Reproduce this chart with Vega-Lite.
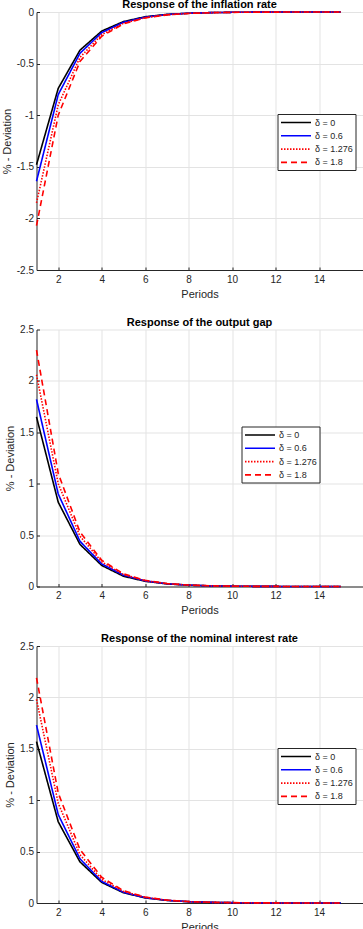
{
  "$schema": "https://vega.github.io/schema/vega-lite/v6.json",
  "background": "white",
  "padding": {"left": 0.5, "top": -1, "right": 0, "bottom": 0},
  "spacing": 17.5,
  "config": {
    "font": "Liberation Sans",
    "view": {"stroke": null},
    "title": {"fontSize": 11, "fontWeight": "bold", "color": "#000000", "offset": -3, "frame": "group"},
    "axis": {
      "labelFontSize": 10, "labelColor": "#262626", "titleFontSize": 11, "titleColor": "#262626",
      "titleFontWeight": "normal", "domainColor": "#262626", "tickColor": "#262626",
      "gridColor": "#e3e3e3", "gridWidth": 1, "tickSize": -3
    },
    "axisX": {"labelPadding": 7},
    "axisY": {"labelPadding": 6},
    "legend": {
      "orient": "none", "direction": "vertical", "title": null,
      "strokeColor": "#262626", "fillColor": "white", "padding": 2.5,
      "labelFontSize": 9, "labelColor": "#262626", "symbolType": "M-1,0H5",
      "symbolSize": 100, "symbolStrokeWidth": 1.6, "rowPadding": 2.3, "labelOffset": 23
    }
  },
  "datasets": {
    "inflation": [
      {"period": 1, "delta": "δ = 0", "value": -1.48}, {"period": 2, "delta": "δ = 0", "value": -0.74}, {"period": 3, "delta": "δ = 0", "value": -0.37}, {"period": 4, "delta": "δ = 0", "value": -0.185}, {"period": 5, "delta": "δ = 0", "value": -0.093}, {"period": 6, "delta": "δ = 0", "value": -0.046}, {"period": 7, "delta": "δ = 0", "value": -0.023}, {"period": 8, "delta": "δ = 0", "value": -0.012}, {"period": 9, "delta": "δ = 0", "value": -0.006}, {"period": 10, "delta": "δ = 0", "value": -0.003}, {"period": 11, "delta": "δ = 0", "value": -0.0015}, {"period": 12, "delta": "δ = 0", "value": -0.0007}, {"period": 13, "delta": "δ = 0", "value": -0.0004}, {"period": 14, "delta": "δ = 0", "value": -0.0002}, {"period": 15, "delta": "δ = 0", "value": -0.0001},
      {"period": 1, "delta": "δ = 0.6", "value": -1.64}, {"period": 2, "delta": "δ = 0.6", "value": -0.80}, {"period": 3, "delta": "δ = 0.6", "value": -0.40}, {"period": 4, "delta": "δ = 0.6", "value": -0.20}, {"period": 5, "delta": "δ = 0.6", "value": -0.10}, {"period": 6, "delta": "δ = 0.6", "value": -0.05}, {"period": 7, "delta": "δ = 0.6", "value": -0.025}, {"period": 8, "delta": "δ = 0.6", "value": -0.012}, {"period": 9, "delta": "δ = 0.6", "value": -0.006}, {"period": 10, "delta": "δ = 0.6", "value": -0.003}, {"period": 11, "delta": "δ = 0.6", "value": -0.0015}, {"period": 12, "delta": "δ = 0.6", "value": -0.0008}, {"period": 13, "delta": "δ = 0.6", "value": -0.0004}, {"period": 14, "delta": "δ = 0.6", "value": -0.0002}, {"period": 15, "delta": "δ = 0.6", "value": -0.0001},
      {"period": 1, "delta": "δ = 1.276", "value": -1.85}, {"period": 2, "delta": "δ = 1.276", "value": -0.90}, {"period": 3, "delta": "δ = 1.276", "value": -0.44}, {"period": 4, "delta": "δ = 1.276", "value": -0.22}, {"period": 5, "delta": "δ = 1.276", "value": -0.11}, {"period": 6, "delta": "δ = 1.276", "value": -0.055}, {"period": 7, "delta": "δ = 1.276", "value": -0.027}, {"period": 8, "delta": "δ = 1.276", "value": -0.013}, {"period": 9, "delta": "δ = 1.276", "value": -0.0065}, {"period": 10, "delta": "δ = 1.276", "value": -0.003}, {"period": 11, "delta": "δ = 1.276", "value": -0.0016}, {"period": 12, "delta": "δ = 1.276", "value": -0.0008}, {"period": 13, "delta": "δ = 1.276", "value": -0.0004}, {"period": 14, "delta": "δ = 1.276", "value": -0.0002}, {"period": 15, "delta": "δ = 1.276", "value": -0.0001},
      {"period": 1, "delta": "δ = 1.8", "value": -2.07}, {"period": 2, "delta": "δ = 1.8", "value": -1.0}, {"period": 3, "delta": "δ = 1.8", "value": -0.48}, {"period": 4, "delta": "δ = 1.8", "value": -0.235}, {"period": 5, "delta": "δ = 1.8", "value": -0.115}, {"period": 6, "delta": "δ = 1.8", "value": -0.057}, {"period": 7, "delta": "δ = 1.8", "value": -0.028}, {"period": 8, "delta": "δ = 1.8", "value": -0.014}, {"period": 9, "delta": "δ = 1.8", "value": -0.007}, {"period": 10, "delta": "δ = 1.8", "value": -0.0034}, {"period": 11, "delta": "δ = 1.8", "value": -0.0017}, {"period": 12, "delta": "δ = 1.8", "value": -0.0008}, {"period": 13, "delta": "δ = 1.8", "value": -0.0004}, {"period": 14, "delta": "δ = 1.8", "value": -0.0002}, {"period": 15, "delta": "δ = 1.8", "value": -0.0001}
    ],
    "output": [
      {"period": 1, "delta": "δ = 0", "value": 1.65}, {"period": 2, "delta": "δ = 0", "value": 0.82}, {"period": 3, "delta": "δ = 0", "value": 0.41}, {"period": 4, "delta": "δ = 0", "value": 0.205}, {"period": 5, "delta": "δ = 0", "value": 0.10}, {"period": 6, "delta": "δ = 0", "value": 0.051}, {"period": 7, "delta": "δ = 0", "value": 0.025}, {"period": 8, "delta": "δ = 0", "value": 0.013}, {"period": 9, "delta": "δ = 0", "value": 0.006}, {"period": 10, "delta": "δ = 0", "value": 0.003}, {"period": 11, "delta": "δ = 0", "value": 0.0016}, {"period": 12, "delta": "δ = 0", "value": 0.0008}, {"period": 13, "delta": "δ = 0", "value": 0.0004}, {"period": 14, "delta": "δ = 0", "value": 0.0002}, {"period": 15, "delta": "δ = 0", "value": 0.0001},
      {"period": 1, "delta": "δ = 0.6", "value": 1.82}, {"period": 2, "delta": "δ = 0.6", "value": 0.90}, {"period": 3, "delta": "δ = 0.6", "value": 0.44}, {"period": 4, "delta": "δ = 0.6", "value": 0.22}, {"period": 5, "delta": "δ = 0.6", "value": 0.11}, {"period": 6, "delta": "δ = 0.6", "value": 0.054}, {"period": 7, "delta": "δ = 0.6", "value": 0.027}, {"period": 8, "delta": "δ = 0.6", "value": 0.013}, {"period": 9, "delta": "δ = 0.6", "value": 0.0065}, {"period": 10, "delta": "δ = 0.6", "value": 0.0032}, {"period": 11, "delta": "δ = 0.6", "value": 0.0016}, {"period": 12, "delta": "δ = 0.6", "value": 0.0008}, {"period": 13, "delta": "δ = 0.6", "value": 0.0004}, {"period": 14, "delta": "δ = 0.6", "value": 0.0002}, {"period": 15, "delta": "δ = 0.6", "value": 0.0001},
      {"period": 1, "delta": "δ = 1.276", "value": 2.06}, {"period": 2, "delta": "δ = 1.276", "value": 1.0}, {"period": 3, "delta": "δ = 1.276", "value": 0.49}, {"period": 4, "delta": "δ = 1.276", "value": 0.24}, {"period": 5, "delta": "δ = 1.276", "value": 0.117}, {"period": 6, "delta": "δ = 1.276", "value": 0.057}, {"period": 7, "delta": "δ = 1.276", "value": 0.028}, {"period": 8, "delta": "δ = 1.276", "value": 0.014}, {"period": 9, "delta": "δ = 1.276", "value": 0.0068}, {"period": 10, "delta": "δ = 1.276", "value": 0.0033}, {"period": 11, "delta": "δ = 1.276", "value": 0.0016}, {"period": 12, "delta": "δ = 1.276", "value": 0.0008}, {"period": 13, "delta": "δ = 1.276", "value": 0.0004}, {"period": 14, "delta": "δ = 1.276", "value": 0.0002}, {"period": 15, "delta": "δ = 1.276", "value": 0.0001},
      {"period": 1, "delta": "δ = 1.8", "value": 2.30}, {"period": 2, "delta": "δ = 1.8", "value": 1.10}, {"period": 3, "delta": "δ = 1.8", "value": 0.53}, {"period": 4, "delta": "δ = 1.8", "value": 0.255}, {"period": 5, "delta": "δ = 1.8", "value": 0.123}, {"period": 6, "delta": "δ = 1.8", "value": 0.06}, {"period": 7, "delta": "δ = 1.8", "value": 0.029}, {"period": 8, "delta": "δ = 1.8", "value": 0.014}, {"period": 9, "delta": "δ = 1.8", "value": 0.007}, {"period": 10, "delta": "δ = 1.8", "value": 0.0034}, {"period": 11, "delta": "δ = 1.8", "value": 0.0017}, {"period": 12, "delta": "δ = 1.8", "value": 0.0008}, {"period": 13, "delta": "δ = 1.8", "value": 0.0004}, {"period": 14, "delta": "δ = 1.8", "value": 0.0002}, {"period": 15, "delta": "δ = 1.8", "value": 0.0001}
    ],
    "interest": [
      {"period": 1, "delta": "δ = 0", "value": 1.57}, {"period": 2, "delta": "δ = 0", "value": 0.79}, {"period": 3, "delta": "δ = 0", "value": 0.40}, {"period": 4, "delta": "δ = 0", "value": 0.20}, {"period": 5, "delta": "δ = 0", "value": 0.10}, {"period": 6, "delta": "δ = 0", "value": 0.05}, {"period": 7, "delta": "δ = 0", "value": 0.025}, {"period": 8, "delta": "δ = 0", "value": 0.0125}, {"period": 9, "delta": "δ = 0", "value": 0.006}, {"period": 10, "delta": "δ = 0", "value": 0.003}, {"period": 11, "delta": "δ = 0", "value": 0.0016}, {"period": 12, "delta": "δ = 0", "value": 0.0008}, {"period": 13, "delta": "δ = 0", "value": 0.0004}, {"period": 14, "delta": "δ = 0", "value": 0.0002}, {"period": 15, "delta": "δ = 0", "value": 0.0001},
      {"period": 1, "delta": "δ = 0.6", "value": 1.73}, {"period": 2, "delta": "δ = 0.6", "value": 0.86}, {"period": 3, "delta": "δ = 0.6", "value": 0.43}, {"period": 4, "delta": "δ = 0.6", "value": 0.21}, {"period": 5, "delta": "δ = 0.6", "value": 0.105}, {"period": 6, "delta": "δ = 0.6", "value": 0.052}, {"period": 7, "delta": "δ = 0.6", "value": 0.026}, {"period": 8, "delta": "δ = 0.6", "value": 0.013}, {"period": 9, "delta": "δ = 0.6", "value": 0.0064}, {"period": 10, "delta": "δ = 0.6", "value": 0.0032}, {"period": 11, "delta": "δ = 0.6", "value": 0.0016}, {"period": 12, "delta": "δ = 0.6", "value": 0.0008}, {"period": 13, "delta": "δ = 0.6", "value": 0.0004}, {"period": 14, "delta": "δ = 0.6", "value": 0.0002}, {"period": 15, "delta": "δ = 0.6", "value": 0.0001},
      {"period": 1, "delta": "δ = 1.276", "value": 1.98}, {"period": 2, "delta": "δ = 1.276", "value": 0.97}, {"period": 3, "delta": "δ = 1.276", "value": 0.47}, {"period": 4, "delta": "δ = 1.276", "value": 0.23}, {"period": 5, "delta": "δ = 1.276", "value": 0.113}, {"period": 6, "delta": "δ = 1.276", "value": 0.055}, {"period": 7, "delta": "δ = 1.276", "value": 0.027}, {"period": 8, "delta": "δ = 1.276", "value": 0.013}, {"period": 9, "delta": "δ = 1.276", "value": 0.0066}, {"period": 10, "delta": "δ = 1.276", "value": 0.0032}, {"period": 11, "delta": "δ = 1.276", "value": 0.0016}, {"period": 12, "delta": "δ = 1.276", "value": 0.0008}, {"period": 13, "delta": "δ = 1.276", "value": 0.0004}, {"period": 14, "delta": "δ = 1.276", "value": 0.0002}, {"period": 15, "delta": "δ = 1.276", "value": 0.0001},
      {"period": 1, "delta": "δ = 1.8", "value": 2.19}, {"period": 2, "delta": "δ = 1.8", "value": 1.07}, {"period": 3, "delta": "δ = 1.8", "value": 0.52}, {"period": 4, "delta": "δ = 1.8", "value": 0.25}, {"period": 5, "delta": "δ = 1.8", "value": 0.12}, {"period": 6, "delta": "δ = 1.8", "value": 0.058}, {"period": 7, "delta": "δ = 1.8", "value": 0.028}, {"period": 8, "delta": "δ = 1.8", "value": 0.014}, {"period": 9, "delta": "δ = 1.8", "value": 0.0068}, {"period": 10, "delta": "δ = 1.8", "value": 0.0033}, {"period": 11, "delta": "δ = 1.8", "value": 0.0016}, {"period": 12, "delta": "δ = 1.8", "value": 0.0008}, {"period": 13, "delta": "δ = 1.8", "value": 0.0004}, {"period": 14, "delta": "δ = 1.8", "value": 0.0002}, {"period": 15, "delta": "δ = 1.8", "value": 0.0001}
    ]
  },
  "resolve": {"scale": {"color": "independent", "strokeDash": "independent"}},
  "vconcat": [
    {
      "title": "Response of the inflation rate",
      "width": 326, "height": 258,
      "data": {"name": "inflation"},
      "mark": {"type": "line", "strokeWidth": 1.6},
      "encoding": {
        "x": {"field": "period", "type": "quantitative", "title": "Periods",
              "scale": {"domain": [1, 16], "nice": false},
              "axis": {"values": [2, 4, 6, 8, 10, 12, 14], "labelFlush": false}},
        "y": {"field": "value", "type": "quantitative", "title": "% - Deviation",
              "scale": {"domain": [-2.5, 0], "nice": false},
              "axis": {"values": [-2.5, -2, -1.5, -1, -0.5, 0], "labelExpr": "datum.value < 0 ? '-' + format(-datum.value, '~g') : format(datum.value, '~g')"}},
        "color": {"field": "delta", "type": "nominal",
                  "scale": {"domain": ["δ = 0", "δ = 0.6", "δ = 1.276", "δ = 1.8"], "range": ["#000000", "#0000ff", "#ff0000", "#ff0000"]},
                  "legend": {"legendX": 241, "legendY": 102}},
        "strokeDash": {"field": "delta", "type": "nominal",
                       "scale": {"domain": ["δ = 0", "δ = 0.6", "δ = 1.276", "δ = 1.8"], "range": [[1, 0], [1, 0], [1.5, 1.5], [6, 4]]},
                       "legend": {"legendX": 241, "legendY": 102}}
      }
    },
    {
      "title": "Response of the output gap",
      "width": 326, "height": 257,
      "data": {"name": "output"},
      "mark": {"type": "line", "strokeWidth": 1.6},
      "encoding": {
        "x": {"field": "period", "type": "quantitative", "title": "Periods",
              "scale": {"domain": [1, 16], "nice": false},
              "axis": {"values": [2, 4, 6, 8, 10, 12, 14], "labelFlush": false}},
        "y": {"field": "value", "type": "quantitative", "title": "% - Deviation",
              "scale": {"domain": [0, 2.5], "nice": false},
              "axis": {"values": [0, 0.5, 1, 1.5, 2, 2.5], "labelExpr": "format(datum.value, '~g')"}},
        "color": {"field": "delta", "type": "nominal",
                  "scale": {"domain": ["δ = 0", "δ = 0.6", "δ = 1.276", "δ = 1.8"], "range": ["#000000", "#0000ff", "#ff0000", "#ff0000"]},
                  "legend": {"legendX": 205, "legendY": 97}},
        "strokeDash": {"field": "delta", "type": "nominal",
                       "scale": {"domain": ["δ = 0", "δ = 0.6", "δ = 1.276", "δ = 1.8"], "range": [[1, 0], [1, 0], [1.5, 1.5], [6, 4]]},
                       "legend": {"legendX": 205, "legendY": 97}}
      }
    },
    {
      "title": "Response of the nominal interest rate",
      "width": 326, "height": 257,
      "data": {"name": "interest"},
      "mark": {"type": "line", "strokeWidth": 1.6},
      "encoding": {
        "x": {"field": "period", "type": "quantitative", "title": "Periods",
              "scale": {"domain": [1, 16], "nice": false},
              "axis": {"values": [2, 4, 6, 8, 10, 12, 14], "labelFlush": false}},
        "y": {"field": "value", "type": "quantitative", "title": "% - Deviation",
              "scale": {"domain": [0, 2.5], "nice": false},
              "axis": {"values": [0, 0.5, 1, 1.5, 2, 2.5], "labelExpr": "format(datum.value, '~g')"}},
        "color": {"field": "delta", "type": "nominal",
                  "scale": {"domain": ["δ = 0", "δ = 0.6", "δ = 1.276", "δ = 1.8"], "range": ["#000000", "#0000ff", "#ff0000", "#ff0000"]},
                  "legend": {"legendX": 241, "legendY": 102}},
        "strokeDash": {"field": "delta", "type": "nominal",
                       "scale": {"domain": ["δ = 0", "δ = 0.6", "δ = 1.276", "δ = 1.8"], "range": [[1, 0], [1, 0], [1.5, 1.5], [6, 4]]},
                       "legend": {"legendX": 241, "legendY": 102}}
      }
    }
  ]
}
